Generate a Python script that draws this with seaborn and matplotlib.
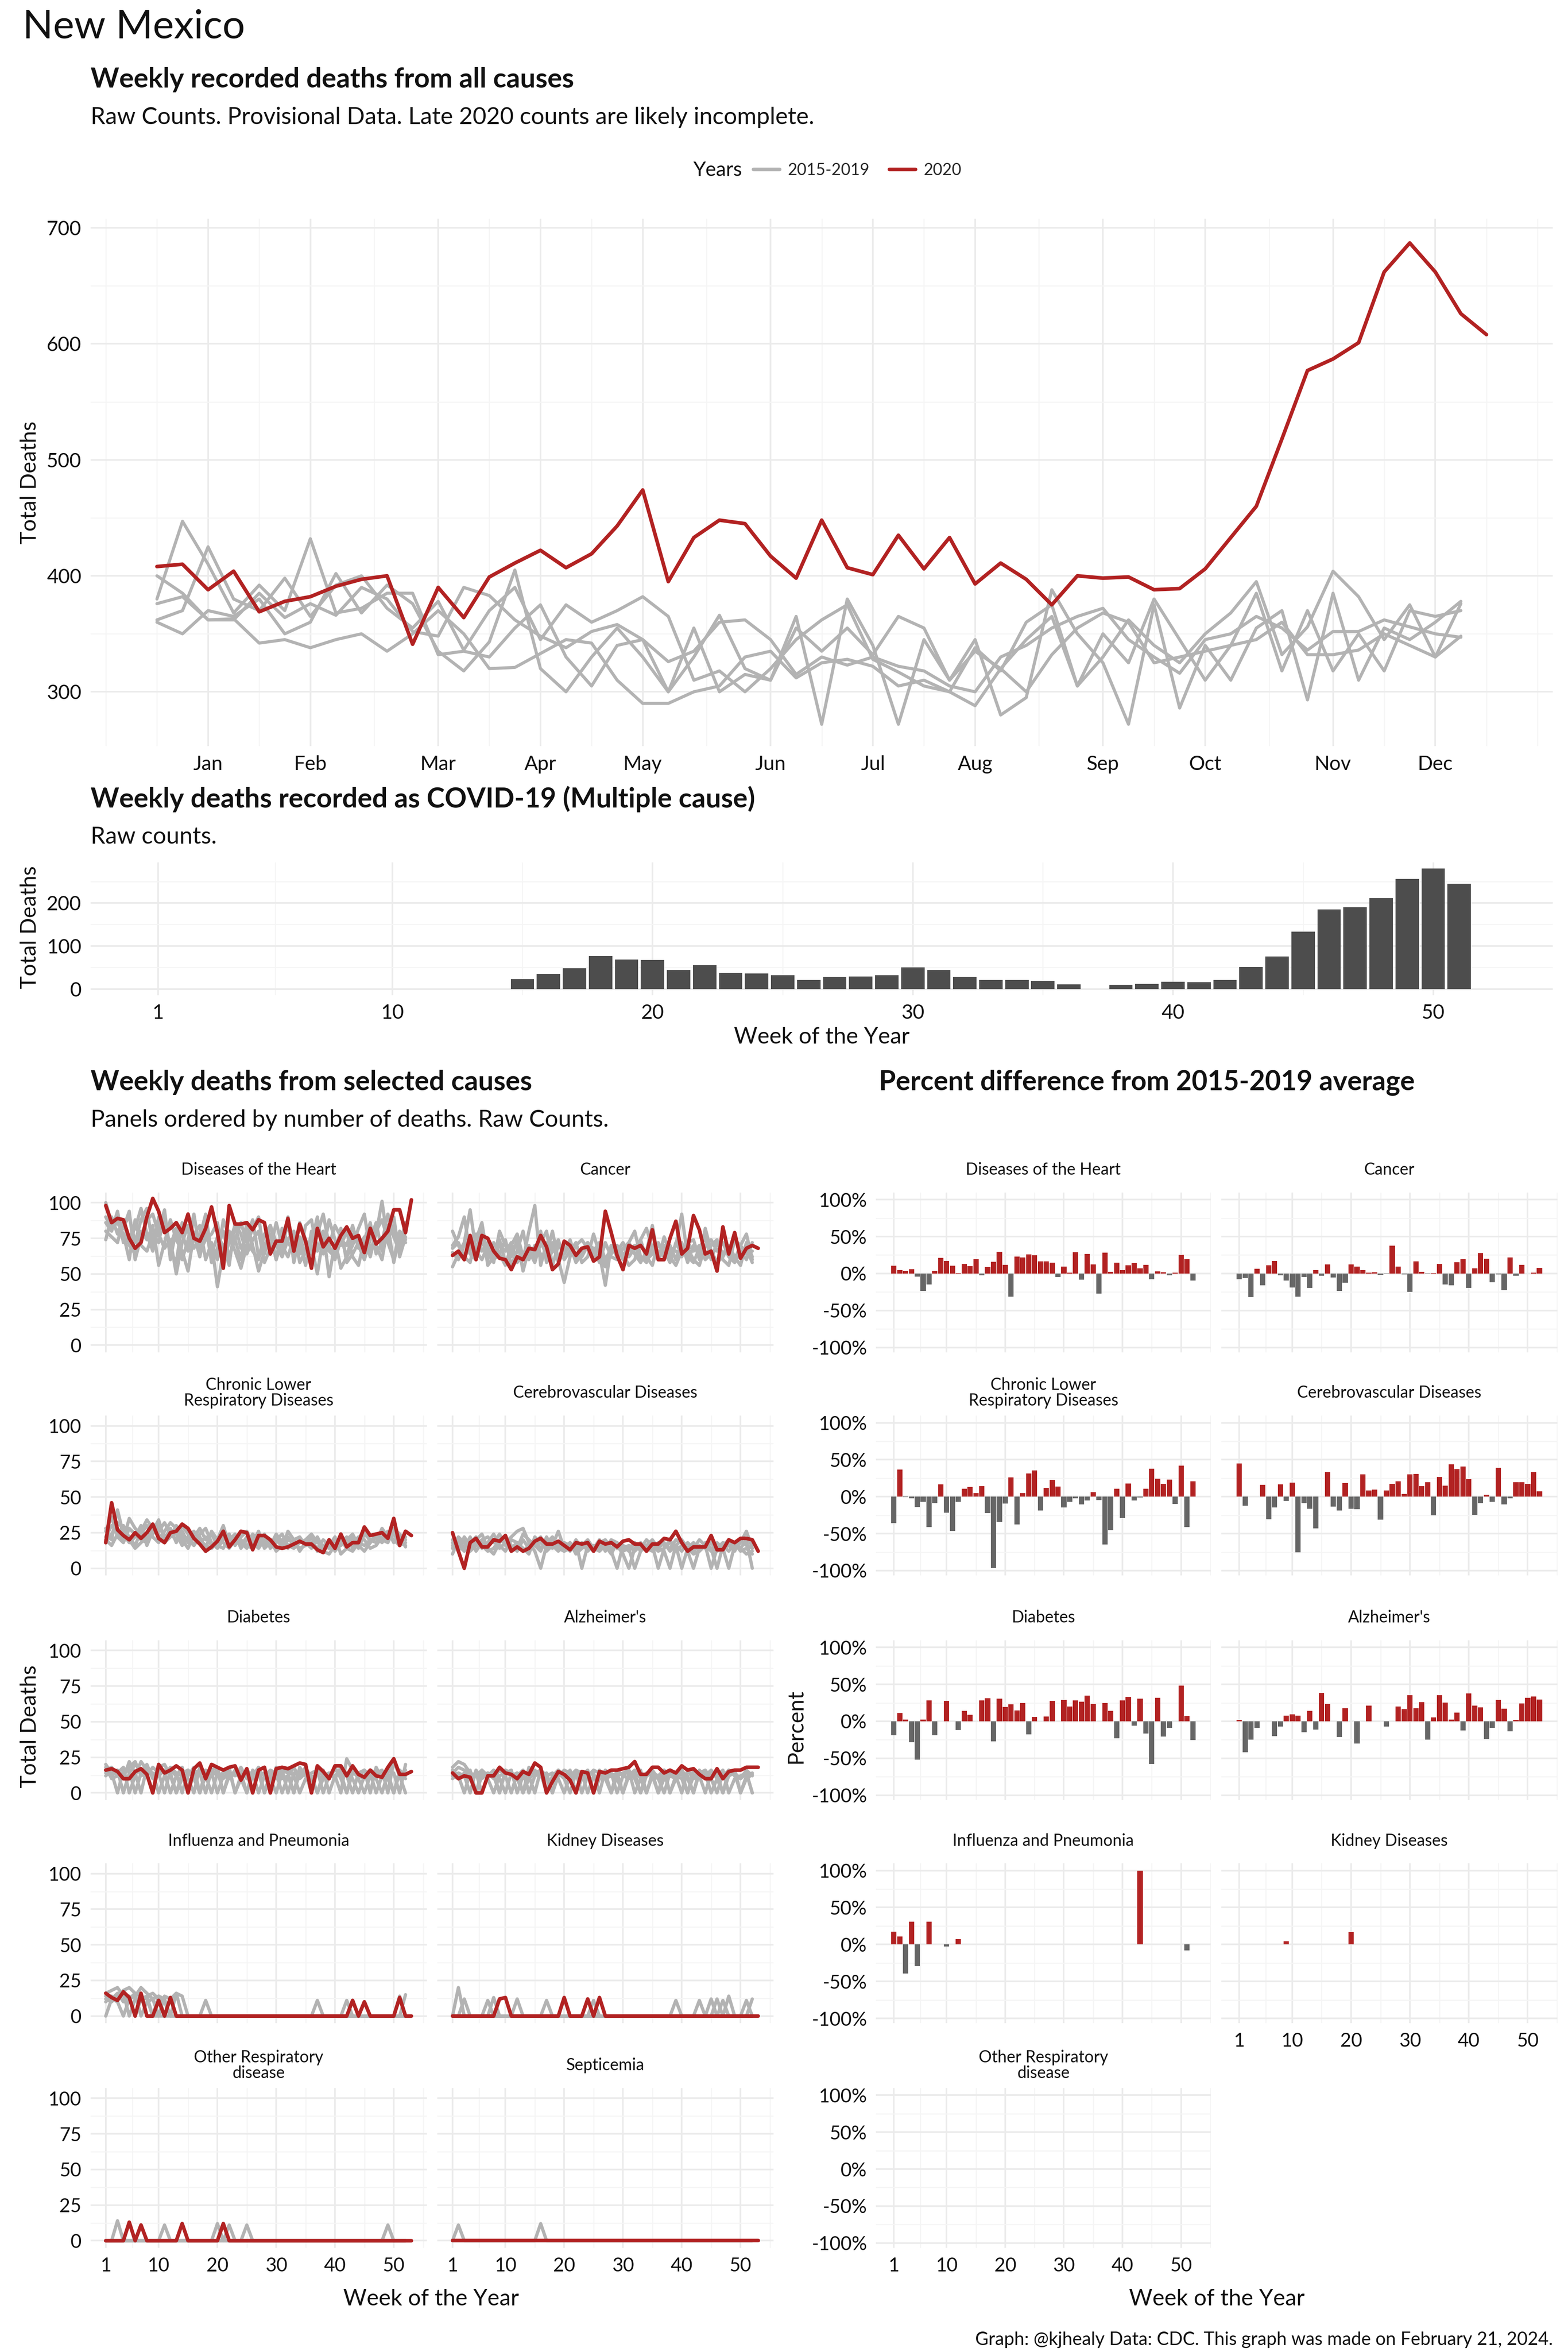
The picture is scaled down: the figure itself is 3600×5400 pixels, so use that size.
import numpy as np
import pandas as pd
import matplotlib
matplotlib.use("Agg")
import matplotlib.pyplot as plt
import seaborn as sns
from matplotlib.lines import Line2D

# ---- data: all-cause weekly deaths ----
ALL_2020 = [408, 410, 388, 404, 369, 378, 382, 391, 397, 400,
            341, 390, 364, 399, 411, 422, 407, 419, 443, 474,
            395, 433, 448, 445, 417, 398, 448, 407, 401, 435,
            406, 433, 393, 411, 397, 375, 400, 398, 399, 388,
            389, 406, 433, 460, 518, 577, 587, 601, 662, 687,
            662, 626, 608]
ALL_2015 = [376, 382, 362, 363, 342, 345, 338, 345, 350, 335,
            350, 370, 350, 320, 321, 333, 345, 342, 310, 290,
            290, 300, 305, 330, 335, 312, 325, 328, 322, 305,
            310, 300, 288, 320, 300, 332, 355, 368, 360, 325,
            330, 335, 340, 345, 360, 332, 332, 336, 350, 340,
            330, 348]
ALL_2016 = [400, 385, 362, 362, 385, 364, 376, 366, 390, 380,
            352, 348, 390, 383, 362, 348, 338, 352, 358, 345,
            326, 335, 360, 362, 345, 315, 330, 323, 330, 322,
            318, 305, 300, 330, 340, 355, 365, 372, 345, 330,
            316, 345, 350, 365, 355, 336, 352, 352, 362, 356,
            350, 347]
ALL_2017 = [362, 370, 425, 380, 370, 398, 365, 392, 400, 372,
            355, 378, 336, 370, 390, 345, 375, 360, 370, 382,
            365, 310, 318, 300, 320, 345, 362, 375, 328, 317,
            305, 300, 338, 318, 360, 375, 305, 330, 362, 340,
            325, 350, 368, 395, 332, 356, 404, 382, 345, 375,
            330, 376]
ALL_2018 = [360, 350, 370, 365, 380, 350, 360, 402, 368, 392,
            376, 335, 318, 343, 405, 320, 300, 330, 355, 330,
            300, 355, 300, 315, 310, 355, 335, 355, 332, 365,
            355, 310, 335, 320, 345, 365, 305, 350, 325, 380,
            345, 310, 340, 385, 318, 370, 318, 350, 318, 370,
            365, 370]
ALL_2019 = [380, 447, 410, 368, 392, 370, 432, 368, 372, 385,
            385, 332, 335, 330, 355, 375, 330, 305, 340, 345,
            300, 330, 366, 320, 310, 365, 272, 380, 340, 272,
            345, 310, 345, 280, 295, 388, 350, 325, 272, 375,
            286, 340, 310, 355, 370, 293, 385, 310, 355, 345,
            360, 378]

MONTH_WEEKS = [3, 7, 12, 16, 20, 25, 29, 33, 38, 42, 47, 51]
MONTH_LABELS = ["Jan", "Feb", "Mar", "Apr", "May", "Jun",
                "Jul", "Aug", "Sep", "Oct", "Nov", "Dec"]

# ---- data: COVID-19 weekly deaths ----
COVID = [0, 0, 0, 0, 0, 0, 0, 0, 0, 0,
         0, 0, 0, 0, 23, 35, 48, 77, 69, 68,
         44, 55, 37, 36, 32, 21, 28, 29, 32, 50,
         44, 28, 21, 21, 19, 11, 0, 10, 12, 17,
         16, 21, 51, 76, 133, 185, 190, 211, 256, 280,
         244, 0]

# ---- data: selected causes, raw counts ----
CAUSES = ["Diseases of the Heart", "Cancer",
          "Chronic Lower\nRespiratory Diseases", "Cerebrovascular Diseases",
          "Diabetes", "Alzheimer's",
          "Influenza and Pneumonia", "Kidney Diseases",
          "Other Respiratory\ndisease", "Septicemia"]

HEART_2020 = [98, 86, 89, 88, 75, 68, 72, 90, 103, 94,
              79, 82, 86, 79, 92, 75, 73, 82, 97, 79,
              54, 98, 85, 85, 86, 81, 88, 86, 64, 73,
              73, 89, 66, 85, 73, 54, 82, 69, 75, 68,
              77, 83, 75, 77, 65, 82, 71, 75, 80, 95,
              95, 79, 102]
HEART_PAST = [
    [100, 86, 80, 84, 90, 72, 88, 96, 70, 80, 95, 60, 82, 78, 66, 90, 70, 85, 58, 68,
     80, 62, 74, 86, 72, 66, 60, 78, 84, 70, 62, 74, 80, 58, 66, 72, 90, 64, 70, 84,
     76, 62, 70, 82, 92, 66, 78, 101, 72, 60, 80, 74],
    [74, 90, 78, 82, 94, 60, 76, 88, 92, 78, 68, 74, 50, 72, 84, 78, 62, 80, 70, 60,
     88, 76, 66, 54, 70, 82, 90, 64, 78, 60, 74, 84, 66, 72, 56, 80, 70, 66, 88, 74,
     54, 62, 78, 70, 60, 74, 86, 66, 80, 90, 62, 76],
    [86, 80, 94, 72, 76, 82, 96, 78, 66, 90, 84, 70, 82, 60, 74, 92, 66, 74, 78, 86,
     60, 72, 84, 68, 76, 88, 62, 70, 78, 60, 82, 72, 66, 86, 74, 64, 78, 92, 70, 60,
     74, 70, 84, 68, 76, 62, 80, 88, 74, 84, 70, 86],
    [80, 76, 72, 88, 70, 64, 80, 74, 84, 56, 72, 88, 74, 66, 52, 78, 84, 60, 72, 41,
     66, 80, 74, 60, 86, 70, 52, 66, 84, 72, 64, 90, 58, 76, 64, 70, 50, 76, 66, 62,
     82, 58, 64, 72, 66, 80, 70, 60, 84, 58, 78, 72],
    [90, 82, 86, 78, 60, 88, 70, 66, 78, 72, 92, 66, 58, 86, 80, 68, 76, 92, 64, 76,
     70, 56, 86, 78, 64, 74, 80, 58, 68, 86, 70, 62, 76, 64, 84, 88, 66, 80, 48, 72,
     70, 80, 62, 56, 74, 86, 64, 72, 92, 76, 66, 80],
]

CANCER_2020 = [63, 66, 60, 77, 60, 77, 75, 66, 61, 60,
               53, 62, 60, 68, 67, 77, 69, 53, 57, 73,
               70, 63, 68, 69, 59, 62, 94, 79, 63, 53,
               70, 68, 70, 64, 81, 60, 60, 75, 87, 64,
               68, 91, 81, 64, 66, 52, 83, 64, 79, 61,
               68, 70, 68]
CANCER_PAST = [
    [55, 64, 72, 95, 66, 60, 70, 62, 74, 58, 66, 70, 60, 80, 98, 56, 72, 68, 62, 64,
     70, 58, 64, 72, 66, 60, 55, 70, 62, 68, 72, 64, 58, 66, 84, 60, 70, 62, 56, 66,
     72, 74, 60, 82, 66, 58, 64, 70, 62, 56, 72, 62],
    [80, 70, 62, 68, 74, 86, 60, 72, 64, 56, 70, 78, 62, 66, 58, 72, 64, 80, 60, 44,
     62, 70, 74, 68, 66, 72, 60, 68, 70, 64, 56, 60, 74, 82, 68, 60, 76, 64, 70, 92,
     62, 58, 68, 76, 60, 72, 64, 66, 60, 70, 78, 60],
    [70, 76, 90, 64, 60, 72, 66, 58, 80, 70, 62, 74, 52, 68, 60, 72, 80, 56, 70, 66,
     74, 60, 66, 72, 62, 70, 56, 64, 70, 60, 72, 80, 62, 58, 70, 66, 62, 70, 60, 72,
     58, 70, 66, 62, 70, 74, 60, 56, 74, 70, 64, 66],
    [65, 60, 70, 74, 64, 84, 56, 62, 70, 66, 72, 58, 64, 70, 62, 80, 58, 66, 74, 60,
     66, 72, 58, 62, 78, 64, 42, 70, 66, 72, 62, 68, 74, 60, 64, 70, 66, 58, 72, 64,
     68, 60, 56, 70, 74, 66, 72, 62, 58, 66, 60, 72],
    [68, 72, 62, 58, 78, 66, 72, 60, 64, 74, 56, 66, 80, 60, 70, 64, 62, 72, 58, 66,
     70, 64, 62, 70, 68, 58, 72, 62, 60, 68, 66, 70, 60, 62, 56, 72, 64, 68, 66, 62,
     72, 66, 70, 60, 64, 58, 62, 70, 60, 64, 68, 58],
]

CLRD_2020 = [18, 46, 27, 23, 20, 25, 21, 25, 31, 21,
             18, 25, 26, 31, 28, 21, 17, 12, 15, 19,
             26, 15, 20, 26, 25, 13, 23, 23, 20, 15,
             14, 15, 17, 19, 17, 17, 13, 11, 20, 14,
             24, 15, 18, 18, 29, 23, 24, 25, 21, 35,
             16, 26, 23]
CLRD_PAST = [
    [28, 20, 41, 24, 18, 22, 30, 16, 26, 34, 20, 28, 18, 30, 24, 16, 22, 14, 26, 20,
     30, 16, 22, 18, 14, 24, 20, 16, 18, 22, 14, 26, 20, 12, 18, 16, 22, 14, 20, 12,
     18, 22, 14, 20, 28, 18, 22, 26, 20, 24, 18, 22],
    [22, 30, 26, 20, 35, 28, 24, 30, 22, 18, 26, 32, 28, 22, 20, 16, 24, 28, 18, 14,
     20, 24, 16, 22, 26, 18, 14, 20, 16, 24, 18, 14, 20, 22, 16, 18, 14, 20, 16, 22,
     10, 14, 12, 18, 16, 20, 22, 18, 24, 20, 16, 18],
    [18, 24, 32, 28, 22, 16, 26, 34, 28, 24, 18, 22, 30, 20, 14, 24, 18, 22, 16, 20,
     18, 14, 20, 16, 22, 18, 26, 14, 18, 20, 24, 16, 14, 18, 20, 24, 18, 16, 14, 20,
     18, 16, 22, 14, 24, 20, 18, 28, 22, 26, 20, 16],
    [26, 36, 22, 18, 28, 24, 20, 18, 30, 26, 32, 24, 20, 26, 18, 22, 28, 20, 24, 16,
     14, 22, 18, 20, 16, 14, 22, 18, 20, 12, 16, 20, 18, 14, 16, 22, 12, 16, 18, 14,
     16, 20, 24, 16, 12, 18, 24, 20, 18, 28, 24, 20],
    [20, 16, 24, 30, 20, 14, 18, 22, 24, 30, 22, 26, 24, 16, 22, 26, 20, 16, 14, 18,
     22, 20, 24, 14, 20, 22, 16, 24, 14, 18, 20, 22, 16, 20, 18, 14, 20, 12, 10, 16,
     20, 14, 18, 22, 20, 14, 16, 22, 26, 18, 22, 15],
]

CEREBRO_2020 = [25, 12, 0, 18, 21, 15, 15, 20, 19, 23,
                12, 15, 12, 14, 19, 21, 17, 17, 19, 16,
                13, 18, 17, 18, 12, 19, 17, 18, 15, 19,
                20, 17, 17, 12, 17, 17, 21, 20, 26, 18,
                12, 15, 15, 15, 23, 13, 13, 20, 18, 21,
                21, 20, 12]
CEREBRO_PAST = [
    [10, 20, 14, 22, 12, 18, 16, 20, 14, 18, 22, 26, 28, 18, 12, 0, 16, 20, 14, 12,
     18, 10, 14, 16, 12, 18, 20, 14, 16, 10, 0, 14, 18, 12, 16, 0, 14, 20, 12, 16,
     14, 10, 12, 18, 14, 0, 16, 12, 18, 14, 10, 12],
    [18, 12, 22, 16, 20, 24, 14, 10, 18, 22, 16, 12, 20, 14, 18, 22, 12, 16, 26, 14,
     18, 12, 16, 20, 14, 12, 16, 10, 18, 12, 14, 0, 12, 16, 18, 14, 12, 0, 16, 20,
     14, 18, 12, 16, 0, 14, 18, 16, 12, 20, 16, 14],
    [14, 22, 18, 12, 16, 20, 22, 18, 24, 16, 14, 18, 12, 16, 20, 14, 18, 22, 16, 12,
     14, 18, 0, 16, 14, 20, 12, 18, 14, 16, 12, 18, 14, 20, 16, 12, 14, 18, 16, 12,
     18, 14, 20, 16, 14, 12, 16, 20, 14, 18, 26, 14],
    [20, 16, 12, 18, 22, 14, 18, 24, 16, 12, 20, 18, 14, 10, 22, 18, 14, 16, 12, 18,
     16, 14, 18, 12, 16, 14, 18, 12, 0, 16, 14, 18, 12, 16, 20, 14, 18, 12, 16, 0,
     14, 12, 16, 14, 18, 12, 14, 16, 18, 12, 14, 10],
    [16, 18, 20, 14, 18, 16, 12, 14, 20, 18, 12, 14, 24, 20, 16, 12, 22, 14, 18, 16,
     12, 20, 14, 18, 12, 16, 14, 20, 18, 14, 16, 12, 16, 14, 12, 18, 16, 14, 20, 18,
     12, 0, 14, 16, 12, 18, 14, 0, 16, 14, 20, 0],
]

DIABETES_2020 = [16, 17, 15, 10, 10, 15, 17, 13, 0, 20,
                 14, 16, 19, 16, 0, 17, 21, 10, 20, 18,
                 16, 18, 19, 9, 17, 0, 16, 18, 0, 17,
                 18, 17, 19, 21, 20, 0, 19, 15, 10, 19,
                 19, 12, 19, 13, 11, 16, 12, 11, 18, 24,
                 13, 13, 15]
DIABETES_PAST = [
    [20, 14, 0, 16, 18, 22, 12, 14, 0, 18, 20, 12, 0, 14, 16, 10, 0, 12, 16, 18,
     0, 12, 14, 10, 0, 16, 12, 14, 0, 18, 10, 12, 0, 14, 16, 12, 0, 10, 14, 12,
     0, 24, 16, 10, 0, 12, 14, 16, 0, 22, 12, 0],
    [16, 18, 12, 10, 22, 14, 0, 18, 12, 16, 14, 0, 12, 18, 0, 14, 16, 12, 0, 14,
     10, 16, 0, 12, 14, 0, 16, 12, 10, 0, 14, 16, 12, 0, 10, 14, 16, 0, 12, 18,
     10, 0, 14, 12, 16, 0, 18, 10, 14, 0, 16, 12],
    [14, 12, 16, 0, 14, 20, 16, 12, 18, 14, 0, 16, 12, 14, 10, 0, 18, 14, 12, 16,
     0, 14, 12, 18, 10, 14, 0, 12, 16, 14, 0, 12, 18, 10, 14, 0, 16, 12, 14, 10,
     18, 12, 0, 14, 16, 12, 10, 0, 14, 24, 12, 16],
    [12, 16, 14, 18, 0, 12, 22, 16, 14, 0, 12, 18, 14, 0, 16, 12, 14, 0, 16, 12,
     14, 18, 0, 10, 16, 12, 14, 0, 12, 10, 16, 14, 0, 18, 12, 10, 14, 16, 0, 12,
     16, 14, 10, 0, 12, 16, 14, 12, 10, 0, 14, 10],
    [18, 10, 12, 14, 16, 0, 14, 20, 10, 12, 16, 14, 0, 10, 12, 18, 0, 16, 14, 0,
     12, 10, 16, 14, 0, 12, 18, 0, 14, 12, 16, 0, 14, 12, 18, 10, 0, 14, 12, 16,
     14, 0, 16, 12, 10, 14, 0, 12, 16, 14, 0, 20],
]

ALZ_2020 = [14, 10, 12, 11, 0, 0, 12, 12, 18, 14,
            13, 10, 15, 13, 21, 18, 0, 8, 15, 13,
            9, 0, 15, 14, 0, 15, 14, 16, 16, 17,
            18, 22, 13, 13, 18, 18, 14, 16, 14, 19,
            16, 17, 13, 10, 10, 17, 10, 15, 16, 16,
            18, 18, 18]
ALZ_PAST = [
    [18, 22, 20, 14, 0, 16, 12, 14, 0, 16, 14, 10, 0, 18, 12, 14, 0, 12, 16, 10,
     0, 14, 12, 16, 0, 10, 12, 14, 0, 12, 16, 10, 0, 14, 12, 0, 10, 14, 12, 0,
     16, 10, 12, 0, 14, 12, 16, 0, 10, 12, 14, 0],
    [14, 18, 16, 12, 14, 0, 12, 16, 10, 0, 14, 12, 16, 0, 12, 14, 10, 0, 12, 16,
     14, 0, 10, 12, 14, 0, 16, 12, 10, 0, 14, 12, 16, 0, 12, 10, 14, 0, 12, 16,
     10, 0, 14, 12, 16, 10, 0, 12, 14, 10, 16, 12],
    [12, 10, 14, 16, 0, 12, 14, 10, 16, 12, 0, 14, 10, 12, 0, 16, 12, 14, 10, 0,
     12, 16, 14, 0, 12, 10, 14, 0, 16, 12, 10, 14, 0, 12, 16, 10, 0, 14, 12, 10,
     0, 16, 12, 14, 0, 10, 12, 16, 14, 0, 12, 14],
    [16, 12, 0, 14, 12, 16, 10, 0, 12, 14, 16, 0, 12, 10, 14, 16, 0, 12, 14, 10,
     16, 0, 14, 12, 0, 16, 10, 12, 14, 0, 12, 16, 10, 0, 14, 12, 16, 0, 10, 14,
     12, 0, 16, 10, 12, 14, 0, 16, 12, 10, 14, 0],
    [10, 14, 12, 0, 16, 10, 14, 12, 0, 16, 12, 14, 0, 10, 16, 12, 14, 0, 16, 12,
     10, 14, 0, 12, 16, 14, 10, 0, 12, 14, 16, 0, 10, 12, 14, 0, 16, 12, 10, 14,
     0, 12, 14, 16, 10, 0, 14, 12, 16, 0, 10, 13],
]

FLU_2020 = [16, 13, 11, 17, 13, 0, 16, 0, 0, 11,
            0, 13, 0, 0, 0, 0, 0, 0, 0, 0,
            0, 0, 0, 0, 0, 0, 0, 0, 0, 0,
            0, 0, 0, 0, 0, 0, 0, 0, 0, 0,
            0, 0, 11, 0, 10, 0, 0, 0, 0, 0,
            13, 0, 0]
FLU_PAST = [
    [16, 18, 20, 14, 12, 16, 0, 10, 12, 14, 0, 12, 16, 0, 0, 0, 0, 0, 0, 0,
     0, 0, 0, 0, 0, 0, 0, 0, 0, 0, 0, 0, 0, 0, 0, 0, 0, 0, 0, 0,
     0, 0, 0, 0, 0, 0, 0, 0, 0, 0, 0, 0],
    [10, 14, 12, 18, 20, 16, 14, 12, 0, 14, 12, 0, 16, 14, 0, 0, 0, 11, 0, 0,
     0, 0, 0, 0, 0, 0, 0, 0, 0, 0, 0, 0, 0, 0, 0, 0, 0, 0, 0, 0,
     0, 0, 0, 0, 0, 0, 0, 0, 0, 0, 0, 0],
    [14, 12, 10, 0, 12, 14, 20, 16, 12, 0, 14, 12, 0, 0, 0, 0, 0, 0, 0, 0,
     0, 0, 0, 0, 0, 0, 0, 0, 0, 0, 0, 0, 0, 0, 0, 0, 11, 0, 0, 0,
     0, 0, 0, 0, 0, 0, 0, 0, 0, 0, 0, 0],
    [12, 10, 14, 16, 0, 12, 10, 14, 16, 12, 10, 0, 0, 0, 0, 0, 0, 0, 0, 0,
     0, 0, 0, 0, 0, 0, 0, 0, 0, 0, 0, 0, 0, 0, 0, 0, 0, 0, 0, 0,
     0, 11, 0, 0, 0, 0, 0, 0, 0, 0, 14, 0],
    [0, 12, 16, 10, 14, 0, 12, 14, 0, 0, 0, 0, 0, 0, 0, 0, 0, 0, 0, 0,
     0, 0, 0, 0, 0, 0, 0, 0, 0, 0, 0, 0, 0, 0, 0, 0, 0, 0, 0, 0,
     0, 0, 0, 0, 0, 0, 0, 0, 0, 0, 0, 15],
]

KIDNEY_2020 = [0, 0, 0, 0, 0, 0, 0, 0, 12, 13,
               0, 0, 0, 0, 0, 0, 0, 0, 0, 13,
               0, 0, 0, 12, 0, 13, 0, 0, 0, 0,
               0, 0, 0, 0, 0, 0, 0, 0, 0, 0,
               0, 0, 0, 0, 0, 0, 0, 0, 0, 0,
               0, 0, 0]
KIDNEY_PAST = [
    [0, 20, 0, 0, 0, 0, 0, 13, 0, 0, 0, 0, 0, 0, 0, 0, 0, 0, 0, 0,
     0, 0, 0, 0, 11, 0, 0, 0, 0, 0, 0, 0, 0, 0, 0, 0, 0, 0, 0, 0,
     0, 0, 0, 0, 12, 0, 0, 0, 0, 0, 0, 0],
    [0, 0, 12, 0, 0, 0, 0, 0, 0, 0, 0, 12, 0, 0, 0, 0, 0, 0, 0, 0,
     0, 0, 0, 0, 0, 0, 0, 0, 0, 0, 0, 0, 0, 0, 0, 0, 0, 0, 11, 0,
     0, 0, 0, 0, 0, 0, 0, 14, 0, 0, 0, 12],
    [0, 0, 0, 0, 0, 0, 11, 0, 0, 0, 0, 0, 0, 0, 0, 0, 11, 0, 0, 0,
     0, 0, 0, 0, 0, 0, 0, 0, 0, 0, 0, 0, 0, 0, 0, 0, 0, 0, 0, 0,
     0, 0, 0, 0, 0, 12, 0, 0, 0, 0, 0, 0],
    [0, 0, 0, 0, 0, 0, 0, 0, 0, 0, 0, 0, 0, 0, 0, 0, 0, 0, 0, 0,
     0, 0, 0, 0, 0, 0, 0, 0, 0, 0, 0, 0, 0, 0, 0, 0, 0, 0, 0, 0,
     0, 0, 11, 0, 0, 0, 0, 0, 0, 0, 11, 0],
    [0, 0, 0, 0, 0, 0, 0, 0, 0, 0, 0, 0, 0, 0, 0, 0, 0, 0, 0, 0,
     0, 0, 0, 0, 0, 0, 0, 0, 0, 0, 0, 0, 0, 0, 0, 0, 0, 0, 0, 0,
     0, 0, 0, 0, 0, 0, 11, 0, 0, 0, 0, 0],
]

OTHERRESP_2020 = [0, 0, 0, 0, 13, 0, 11, 0, 0, 0,
                  0, 0, 0, 12, 0, 0, 0, 0, 0, 0,
                  12, 0, 0, 0, 0, 0, 0, 0, 0, 0,
                  0, 0, 0, 0, 0, 0, 0, 0, 0, 0,
                  0, 0, 0, 0, 0, 0, 0, 0, 0, 0,
                  0, 0, 0]
OTHERRESP_PAST = [
    [0, 0, 14, 0, 0, 0, 0, 0, 0, 0, 0, 0, 0, 0, 0, 0, 0, 0, 0, 12,
     0, 0, 0, 0, 0, 0, 0, 0, 0, 0, 0, 0, 0, 0, 0, 0, 0, 0, 0, 0,
     0, 0, 0, 0, 0, 0, 0, 0, 0, 0, 0, 0],
    [0, 0, 0, 0, 0, 0, 0, 0, 0, 0, 11, 0, 0, 0, 0, 0, 0, 0, 0, 0,
     0, 11, 0, 0, 0, 0, 0, 0, 0, 0, 0, 0, 0, 0, 0, 0, 0, 0, 0, 0,
     0, 0, 0, 0, 0, 0, 0, 0, 0, 0, 0, 0],
    [0, 0, 0, 0, 0, 0, 0, 0, 0, 0, 0, 0, 0, 0, 0, 0, 0, 0, 0, 0,
     0, 0, 0, 0, 11, 0, 0, 0, 0, 0, 0, 0, 0, 0, 0, 0, 0, 0, 0, 0,
     0, 0, 0, 0, 0, 0, 0, 0, 0, 0, 0, 0],
    [0, 0, 0, 0, 0, 0, 0, 0, 0, 0, 0, 0, 0, 0, 0, 0, 0, 0, 0, 0,
     0, 0, 0, 0, 0, 0, 0, 0, 0, 0, 0, 0, 0, 0, 0, 0, 0, 0, 0, 0,
     0, 0, 0, 0, 0, 0, 0, 0, 11, 0, 0, 0],
    [0, 0, 0, 0, 0, 0, 0, 0, 0, 0, 0, 0, 0, 0, 0, 0, 0, 0, 0, 0,
     0, 0, 0, 0, 0, 0, 0, 0, 0, 0, 0, 0, 0, 0, 0, 0, 0, 0, 0, 0,
     0, 0, 0, 0, 0, 0, 0, 0, 0, 0, 0, 0],
]

SEPTIC_2020 = [0, 0, 0, 0, 0, 0, 0, 0, 0, 0,
               0, 0, 0, 0, 0, 0, 0, 0, 0, 0,
               0, 0, 0, 0, 0, 0, 0, 0, 0, 0,
               0, 0, 0, 0, 0, 0, 0, 0, 0, 0,
               0, 0, 0, 0, 0, 0, 0, 0, 0, 0,
               0, 0, 0]
SEPTIC_PAST = [
    [0, 11, 0, 0, 0, 0, 0, 0, 0, 0, 0, 0, 0, 0, 0, 0, 0, 0, 0, 0,
     0, 0, 0, 0, 0, 0, 0, 0, 0, 0, 0, 0, 0, 0, 0, 0, 0, 0, 0, 0,
     0, 0, 0, 0, 0, 0, 0, 0, 0, 0, 0, 0],
    [0, 0, 0, 0, 0, 0, 0, 0, 0, 0, 0, 0, 0, 0, 0, 12, 0, 0, 0, 0,
     0, 0, 0, 0, 0, 0, 0, 0, 0, 0, 0, 0, 0, 0, 0, 0, 0, 0, 0, 0,
     0, 0, 0, 0, 0, 0, 0, 0, 0, 0, 0, 0],
    [0, 0, 0, 0, 0, 0, 0, 0, 0, 0, 0, 0, 0, 0, 0, 0, 0, 0, 0, 0,
     0, 0, 0, 0, 0, 0, 0, 0, 0, 0, 0, 0, 0, 0, 0, 0, 0, 0, 0, 0,
     0, 0, 0, 0, 0, 0, 0, 0, 0, 0, 0, 0],
    [0, 0, 0, 0, 0, 0, 0, 0, 0, 0, 0, 0, 0, 0, 0, 0, 0, 0, 0, 0,
     0, 0, 0, 0, 0, 0, 0, 0, 0, 0, 0, 0, 0, 0, 0, 0, 0, 0, 0, 0,
     0, 0, 0, 0, 0, 0, 0, 0, 0, 0, 0, 0],
    [0, 0, 0, 0, 0, 0, 0, 0, 0, 0, 0, 0, 0, 0, 0, 0, 0, 0, 0, 0,
     0, 0, 0, 0, 0, 0, 0, 0, 0, 0, 0, 0, 0, 0, 0, 0, 0, 0, 0, 0,
     0, 0, 0, 0, 0, 0, 0, 0, 0, 0, 0, 0],
]

# ---- data: percent difference from 2015-2019 average ----
HEART_PCT = [10.5, 4.5, 3.4, 6, -4, -23.6, -15, 3.4, 21, 17,
             10.5, 0.8, 13, 9.7, 19.6, -2.6, 8.6, 15.7, 29.6, 11.8,
             -31.4, 22.8, 21.7, 25.7, 24.9, 16.2, 16.2, 14.9, -4.7, 9.2,
             1.3, 28.8, -8.4, 26.7, 12.3, -27, 28, 2.6, 14.4, 4.7,
             11, 13.9, 7.3, 11.8, -7.9, 2.9, 1.8, -2.6, 1.3, 25.4,
             19.6, -9.2]
CANCER_PCT = [-7.9, -6, -32, 6.5, -16, 11, 17, -2.6, -9.2, -18.8,
              -31, -4.5, -19.6, 4.5, -3, 12.3, -5.2, -23.6, -12.3, 12.6,
              9.2, 4.7, 1.3, 1.8, -2, -0.8, 37.4, 9.2, -1.3, -24.9,
              16.2, 2.6, -0.8, 0.8, 13, -15, -16, 15.2, 19.4, -19.6,
              7, 27.5, 20.2, -11.8, -1.3, -22.2, 21.7, -3, 11.8, 0,
              1.3, 7.8]
CLRD_PCT = [-35.7, 36.7, -0.6, -2.5, -14.3, -7.2, -41, -8.8, 16.6, -21.9,
            -46.3, -7.2, 10.5, 12.9, 4.9, 14, -22.3, -96.7, -33.8, -9.4,
            26.2, -37.5, 4.9, 31.2, 35.2, -18.6, 12, 22.7, 13.7, -14.8,
            -7, -2.5, -10.7, -5, 6, -4.5, -64.6, -45, 10.5, -28.7,
            18, -5, -1, 11, 38, 24, 17.5, 23, -10, 42,
            -41, 20.5]
CEREBRO_PCT = [44.7, -12.3, 0, 0, 16, -30.8, -14.8, 16.6, -5.5, 19,
               -75, -8.6, -16.6, -43, 0, 33, -13.7, -18.6, 18.6, -16.6,
               -17, 30, 8.6, 9.8, -31, 8.2, 17.4, 21, 3.9, 30,
               31, 14, 19.6, -25, 26.8, 15, 44, 37, 41, 23.6,
               -24.6, -8.8, 2.5, -7, 39, -10.7, -2.5, 19.6, 19.6, 17,
               33, 7.4]
DIABETES_PCT = [-18.6, 11, 2.5, -28, -52, 2.3, 28.4, -18.6, 0, 27.6,
                0, -11.6, 14, 8.8, 0, 28, 31, -27, 30.5, 19.6,
                22.7, 14.8, 24.6, -17.4, 6, 0, 6.5, 27.6, 0, 29,
                20.3, 28, 26.4, 35, 23.6, 0, 25, 14, -23, 28,
                33, -6, 30.5, -16.6, -57.5, 32, -20.7, -9, 0, 48.5,
                7, -25.4]
ALZ_PCT = [1.8, -41.7, -24.8, -9, 0, 0, -20.3, -6.8, 7.6, 9.4,
           7.6, -14.8, 14.3, -11, 38, 23.8, 0, -21.3, 17.8, 0,
           -30, 0, 21.5, 0, 0, -7, 0, 20, 16.6, 35.2,
           17.6, 26.2, -24.8, 5.5, 35.2, 25.4, 2.5, 11.7, -12.5, 37.6,
           21.5, 18.6, -24.3, -9, 29, 17, -13.5, 1.8, 24, 31.7,
           33.3, 29.4]
FLU_PCT = [17.5, 10.6, -39.5, 31, -29, 0, 31, 0, 0, -3,
           0, 7.4, 0, 0, 0, 0, 0, 0, 0, 0,
           0, 0, 0, 0, 0, 0, 0, 0, 0, 0,
           0, 0, 0, 0, 0, 0, 0, 0, 0, 0,
           0, 0, 100, 0, 0, 0, 0, 0, 0, 0,
           -8, 0]
KIDNEY_PCT = [0, 0, 0, 0, 0, 0, 0, 0, 4.5, 0,
              0, 0, 0, 0, 0, 0, 0, 0, 0, 16.6,
              0, 0, 0, 0, 0, 0, 0, 0, 0, 0,
              0, 0, 0, 0, 0, 0, 0, 0, 0, 0,
              0, 0, 0, 0, 0, 0, 0, 0, 0, 0,
              0, 0]
OTHERRESP_PCT = [0, 0, 0, 0, 0, 0, 0, 0, 0, 0,
                 0, 0, 0, 0, 0, 0, 0, 0, 0, 0,
                 0, 0, 0, 0, 0, 0, 0, 0, 0, 0,
                 0, 0, 0, 0, 0, 0, 0, 0, 0, 0,
                 0, 0, 0, 0, 0, 0, 0, 0, 0, 0,
                 0, 0]

COUNTS = [(HEART_2020, HEART_PAST), (CANCER_2020, CANCER_PAST),
          (CLRD_2020, CLRD_PAST), (CEREBRO_2020, CEREBRO_PAST),
          (DIABETES_2020, DIABETES_PAST), (ALZ_2020, ALZ_PAST),
          (FLU_2020, FLU_PAST), (KIDNEY_2020, KIDNEY_PAST),
          (OTHERRESP_2020, OTHERRESP_PAST), (SEPTIC_2020, SEPTIC_PAST)]
PCTS = [HEART_PCT, CANCER_PCT, CLRD_PCT, CEREBRO_PCT, DIABETES_PCT,
        ALZ_PCT, FLU_PCT, KIDNEY_PCT, OTHERRESP_PCT]
PAST_YEARS = [2015, 2016, 2017, 2018, 2019]

# ---- style ----
RED = "#B22222"
GRAY_LINE = "#B3B3B3"
BAR_DARK = "#4D4D4D"
BAR_GRAY = "#666666"
TXT = "#111111"

sns.set_theme(style="white")
plt.rcParams["font.family"] = ["Lato", "DejaVu Sans"]
plt.rcParams["axes.unicode_minus"] = False

W, H = 1040.0, 1560.0  # layout units (scaled to the 3600x5400 canvas)
fig = plt.figure(figsize=(12, 18), dpi=300)


def box(l, t, r, b):
    return [l / W, 1 - b / H, (r - l) / W, (b - t) / H]


def ftext(x, y, s, **kw):
    return fig.text(x / W, 1 - y / H, s, **kw)


def style(ax, xmaj, xmin, ymaj, ymin, lsize=10.5):
    ax.set_xticks(xmaj)
    ax.set_xticks(xmin, minor=True)
    ax.set_yticks(ymaj)
    ax.set_yticks(ymin, minor=True)
    ax.grid(which="major", color="#EBEBEB", lw=0.9)
    ax.grid(which="minor", color="#F5F5F5", lw=0.6)
    ax.set_axisbelow(True)
    for s in ax.spines.values():
        s.set_visible(False)
    ax.tick_params(which="major", length=3, width=1, color="#333333",
                   labelsize=lsize, labelcolor=TXT, pad=2)
    ax.tick_params(which="minor", length=0)
    ax.set_xlabel("")
    ax.set_ylabel("")


def long_frame(cur, past):
    rows = []
    for yr, vals in zip(PAST_YEARS, past):
        rows.append(pd.DataFrame({"week": np.arange(1, len(vals) + 1),
                                  "deaths": vals, "year": yr}))
    df_past = pd.concat(rows, ignore_index=True)
    df_cur = pd.DataFrame({"week": np.arange(1, len(cur) + 1), "deaths": cur})
    return df_past, df_cur


# ---- headings ----
ftext(15, 18, "New Mexico", fontsize=22, va="center", color=TXT)
ftext(60, 53, "Weekly recorded deaths from all causes", fontsize=15,
      fontweight="bold", va="center", color=TXT)
ftext(60, 78, "Raw Counts. Provisional Data. Late 2020 counts are likely incomplete.",
      fontsize=13, va="center", color=TXT)

# ---- panel 1: all causes ----
ax1 = fig.add_axes(box(60, 145, 1030, 495))
dpast, dcur = long_frame(ALL_2020, [ALL_2015, ALL_2016, ALL_2017, ALL_2018, ALL_2019])
sns.lineplot(data=dpast, x="week", y="deaths", units="year", estimator=None,
             color=GRAY_LINE, lw=1.7, ax=ax1)
sns.lineplot(data=dcur, x="week", y="deaths", color=RED, lw=2.0, ax=ax1)
style(ax1, MONTH_WEEKS, [-1, 1, 5, 9.5, 14, 18, 22.5, 27, 31, 35.5, 40, 44.5, 49, 53, 55],
      [300, 400, 500, 600, 700], [250, 350, 450, 550, 650], lsize=11)
ax1.set_xticklabels(MONTH_LABELS)
ax1.set_xlim(-1.6, 55.6)
ax1.set_ylim(253, 708)
ftext(20, 320, "Total Deaths", rotation=90, fontsize=12, va="center", ha="center", color=TXT)

ftext(460, 113, "Years", fontsize=11, va="center", color=TXT)
handles = [Line2D([], [], color=GRAY_LINE, lw=2), Line2D([], [], color=RED, lw=2)]
fig.legend(handles, ["2015-2019", "2020"], loc="center left",
           bbox_to_anchor=(490 / W, 1 - 113 / H), ncol=2, frameon=False,
           fontsize=9, handlelength=1.6, columnspacing=1.2, handletextpad=0.5)

# ---- panel 2: COVID ----
ftext(60, 530, "Weekly deaths recorded as COVID-19 (Multiple cause)", fontsize=15,
      fontweight="bold", va="center", color=TXT)
ftext(60, 555, "Raw counts.", fontsize=13, va="center", color=TXT)
ax2 = fig.add_axes(box(60, 572, 1030, 660))
cw = np.arange(1, len(COVID) + 1)
ax2.bar(cw, COVID, width=0.9, color=BAR_DARK, linewidth=0)
style(ax2, [1, 10, 20, 30, 40, 50], [5.5, 15, 25, 35, 45, 55],
      [0, 100, 200], [50, 150, 250], lsize=11)
ax2.set_xlim(-1.6, 54.6)
ax2.set_ylim(-14, 294)
ftext(20, 615, "Total Deaths", rotation=90, fontsize=12, va="center", ha="center", color=TXT)
ftext(545, 688, "Week of the Year", fontsize=12.5, ha="center", va="center", color=TXT)

# ---- panel 3: selected causes ----
ftext(60, 718, "Weekly deaths from selected causes", fontsize=15,
      fontweight="bold", va="center", color=TXT)
ftext(60, 743, "Panels ordered by number of deaths. Raw Counts.",
      fontsize=13, va="center", color=TXT)
ftext(583, 718, "Percent difference from 2015-2019 average", fontsize=15,
      fontweight="bold", va="center", color=TXT)

ROW_TOPS = [791, 939, 1088, 1236, 1385]
PANEL_H = 106
LEFT_COLS = [(60, 283), (290, 513)]
RIGHT_COLS = [(581, 803), (810, 1033)]
WEEK_TICKS = [1, 10, 20, 30, 40, 50]
WEEK_MINOR = [5.5, 15, 25, 35, 45, 55]

for i, (name, (cur, past)) in enumerate(zip(CAUSES, COUNTS)):
    r, c = divmod(i, 2)
    l, rr = LEFT_COLS[c]
    t = ROW_TOPS[r]
    ax = fig.add_axes(box(l, t, rr, t + PANEL_H))
    dpast, dcur = long_frame(cur, past)
    sns.lineplot(data=dpast, x="week", y="deaths", units="year", estimator=None,
                 color=GRAY_LINE, lw=1.8, ax=ax)
    sns.lineplot(data=dcur, x="week", y="deaths", color=RED, lw=2.0, ax=ax)
    style(ax, WEEK_TICKS, WEEK_MINOR, [0, 25, 50, 75, 100], [12.5, 37.5, 62.5, 87.5])
    ax.set_xlim(-1.6, 55.6)
    ax.set_ylim(-5.1, 107.1)
    if r < 4:
        ax.tick_params(axis="x", which="major", length=0, labelbottom=False)
    if c == 1:
        ax.tick_params(axis="y", which="major", length=0, labelleft=False)
    ftext((l + rr) / 2, t - 15, name, fontsize=9, ha="center", va="center",
          color=TXT, linespacing=1.0)

for i, (name, pct) in enumerate(zip(CAUSES[:9], PCTS)):
    r, c = divmod(i, 2)
    l, rr = RIGHT_COLS[c]
    t = ROW_TOPS[r]
    ax = fig.add_axes(box(l, t, rr, t + PANEL_H))
    vals = np.array(pct, dtype=float) / 100.0
    wk = np.arange(1, len(vals) + 1)
    cols = [RED if v > 0 else BAR_GRAY for v in vals]
    ax.bar(wk, vals, width=0.9, color=cols, linewidth=0)
    style(ax, WEEK_TICKS, WEEK_MINOR, [-1, -0.5, 0, 0.5, 1], [-0.75, -0.25, 0.25, 0.75])
    ax.set_yticklabels(["-100%", "-50%", "0%", "50%", "100%"])
    ax.set_xlim(-2.05, 55.05)
    ax.set_ylim(-1.067, 1.095)
    if not (i == 7 or i == 8):
        ax.tick_params(axis="x", which="major", length=0, labelbottom=False)
    if c == 1:
        ax.tick_params(axis="y", which="major", length=0, labelleft=False)
    ftext((l + rr) / 2, t - 15, name, fontsize=9, ha="center", va="center",
          color=TXT, linespacing=1.0)

ftext(20, 1145, "Total Deaths", rotation=90, fontsize=12, va="center", ha="center", color=TXT)
ftext(528, 1145, "Percent", rotation=90, fontsize=12, va="center", ha="center", color=TXT)
ftext(286, 1525, "Week of the Year", fontsize=12.5, ha="center", va="center", color=TXT)
ftext(807, 1525, "Week of the Year", fontsize=12.5, ha="center", va="center", color=TXT)
ftext(1030, 1552, "Graph: @kjhealy Data: CDC. This graph was made on February 21, 2024.",
      fontsize=10, ha="right", va="center", color=TXT)

fig.savefig("out.png", dpi=300, facecolor="white")
